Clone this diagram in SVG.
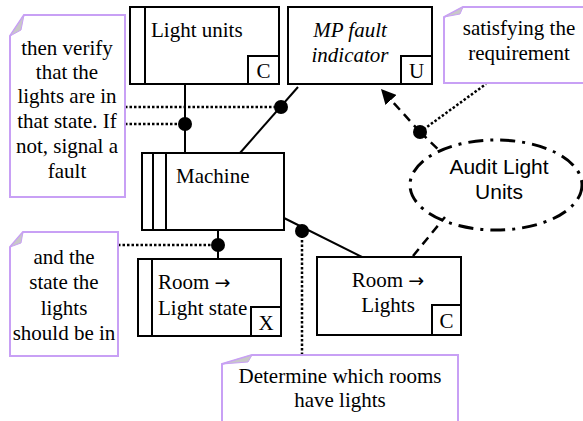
<svg xmlns="http://www.w3.org/2000/svg" width="583" height="421" viewBox="0 0 583 421">
<style>
.box{fill:#fff;stroke:#000;stroke-width:2}
.t{font-family:"Liberation Serif","Times New Roman",serif;font-size:21px;fill:#000}
.s{font-family:"Liberation Sans",Arial,sans-serif;font-size:21px;fill:#000}
.ar{font-family:"DejaVu Sans",sans-serif;font-size:19px}
.note{fill:#fff;stroke:#c8a0f5;stroke-width:2}
.fold{fill:#c8c8c8;stroke:#c8a0f5;stroke-width:1}
.ln{stroke:#000;stroke-width:2;fill:none}
.dot{stroke:#000;stroke-width:2.5;stroke-dasharray:2.5 2;fill:none}
.dash{stroke:#000;stroke-width:2.5;stroke-dasharray:9 6;fill:none}
</style>
<defs>
<marker id="ah" viewBox="0 0 10 10" refX="9" refY="5" markerWidth="6" markerHeight="6" orient="auto" markerUnits="strokeWidth">
<path d="M0,0 L10,5 L0,10 Z" fill="#000"/>
</marker>
</defs>
<g id="connectors">
<line class="ln" x1="185" y1="84" x2="185" y2="153"/>
<line class="ln" x1="298" y1="87" x2="240" y2="153"/>
<line class="ln" x1="218" y1="231" x2="218" y2="259"/>
<line class="ln" x1="284" y1="218" x2="362" y2="257"/>
<line class="dot" x1="125" y1="107" x2="281" y2="107"/>
<line class="dot" x1="125" y1="124" x2="185" y2="124"/>
<line class="dot" x1="118" y1="245" x2="218" y2="245"/>
<line class="dot" x1="302" y1="231" x2="302" y2="355"/>
<line class="dot" x1="420" y1="132" x2="486" y2="84"/>
<line class="dash" x1="420" y1="132" x2="382" y2="90" marker-end="url(#ah)"/>
<line class="dash" x1="420" y1="132" x2="441" y2="152"/>
<line class="dash" x1="413" y1="256" x2="445" y2="217"/>
<circle cx="185" cy="124" r="7" fill="#000"/>
<circle cx="281" cy="107" r="7" fill="#000"/>
<circle cx="218" cy="245" r="7" fill="#000"/>
<circle cx="302" cy="231" r="7" fill="#000"/>
<circle cx="420" cy="132" r="7" fill="#000"/>
</g>
<g id="light-units">
<rect class="box" x="130" y="7" width="149" height="77"/>
<line class="ln" x1="145" y1="7" x2="145" y2="84"/>
<rect class="box" x="248" y="56" width="31" height="28"/>
<text class="t" x="151" y="37">Light units</text>
<text class="t" x="263.5" y="78" text-anchor="middle">C</text>
</g>
<g id="mp-fault-indicator">
<rect class="box" x="288" y="7" width="144" height="77"/>
<rect class="box" x="401" y="56" width="31" height="28"/>
<text class="t" x="350" y="37" text-anchor="middle" font-style="italic">MP fault</text>
<text class="t" x="350" y="62" text-anchor="middle" font-style="italic">indicator</text>
<text class="t" x="416.5" y="78" text-anchor="middle">U</text>
</g>
<g id="machine">
<rect class="box" x="142" y="153" width="142" height="77"/>
<line class="ln" x1="153" y1="153" x2="153" y2="230"/>
<line class="ln" x1="166" y1="153" x2="166" y2="230"/>
<text class="t" x="176" y="183">Machine</text>
</g>
<g id="room-light-state">
<rect class="box" x="138" y="259" width="143" height="77"/>
<line class="ln" x1="152" y1="259" x2="152" y2="336"/>
<rect class="box" x="251" y="307" width="30" height="29"/>
<text class="t" x="158" y="289">Room <tspan class="ar">→</tspan></text>
<text class="t" x="158" y="315">Light state</text>
<text class="t" x="266" y="330" text-anchor="middle">X</text>
</g>
<g id="room-lights">
<rect class="box" x="317" y="257" width="144" height="78"/>
<rect class="box" x="432" y="305" width="29" height="30"/>
<text class="t" x="388" y="287" text-anchor="middle">Room <tspan class="ar">→</tspan></text>
<text class="t" x="388" y="312" text-anchor="middle">Lights</text>
<text class="t" x="446.5" y="328" text-anchor="middle">C</text>
</g>
<g id="audit-light-units">
<ellipse cx="496" cy="185" rx="86" ry="45" fill="none" stroke="#000" stroke-width="3" stroke-dasharray="15 7 3 7"/>
<text class="s" x="499" y="174" text-anchor="middle">Audit Light</text>
<text class="s" x="499" y="199" text-anchor="middle">Units</text>
</g>
<g id="note-verify">
<path class="note" d="M24,15 L125,15 L125,197 L10,197 L10,36 Z"/>
<path class="fold" d="M24,15 L10,36 L21,30 Z"/>
<text class="t" x="67" y="55" text-anchor="middle">then verify</text>
<text class="t" x="67" y="79" text-anchor="middle">that the</text>
<text class="t" x="67" y="103" text-anchor="middle">lights are in</text>
<text class="t" x="67" y="128" text-anchor="middle">that state. If</text>
<text class="t" x="67" y="153" text-anchor="middle">not, signal a</text>
<text class="t" x="67" y="178" text-anchor="middle">fault</text>
</g>
<g id="note-satisfying">
<path class="note" d="M463,7 L592,7 L592,83 L444,83 L444,17 Z"/>
<path class="fold" d="M463,7 L444,17 L460,14 Z"/>
<text class="t" x="519" y="35" text-anchor="middle">satisfying the</text>
<text class="t" x="519" y="60" text-anchor="middle">requirement</text>
</g>
<g id="note-state">
<path class="note" d="M23,232 L118,232 L118,356 L10,356 L10,247 Z"/>
<path class="fold" d="M23,232 L10,247 L21,243 Z"/>
<text class="t" x="64" y="264" text-anchor="middle">and the</text>
<text class="t" x="64" y="289" text-anchor="middle">state the</text>
<text class="t" x="64" y="315" text-anchor="middle">lights</text>
<text class="t" x="64" y="340" text-anchor="middle">should be in</text>
</g>
<g id="note-determine">
<path class="note" d="M252,355 L458,355 L458,430 L222,430 L222,364 Z"/>
<path class="fold" d="M252,355 L222,364 L248,362 Z"/>
<text class="t" x="340" y="383" text-anchor="middle">Determine which rooms</text>
<text class="t" x="340" y="407" text-anchor="middle">have lights</text>
</g>
</svg>
